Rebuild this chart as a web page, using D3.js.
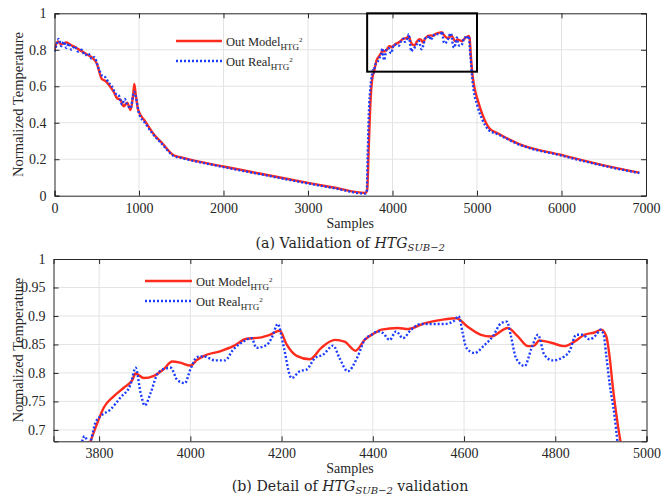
<!DOCTYPE html>
<html>
<head>
<meta charset="utf-8">
<script src="https://cdn.jsdelivr.net/npm/d3@7"></script>
<style>
  body { margin: 0; background: #fff; }
  svg text { font-family: "Liberation Serif", "Times New Roman", serif; fill: #262626; }
</style>
</head>
<body>
<svg id="chart"></svg>
<script>
// Chart size
const width = 662;
const height = 499;

// Out Model (red, solid)
const modelX = [0, 40, 80, 140, 200, 260, 330, 400, 450, 500, 560, 600, 640, 700, 740, 780, 820, 860, 900, 930, 945, 960, 990,
  1070, 1170, 1270, 1410, 1500, 2000, 2500, 3000, 3300, 3680, 3700, 3720, 3740, 3760, 3781, 3796, 3810, 3832, 3854, 3873,
  3880, 3898, 3920, 3942, 3960, 3978, 4000, 4015, 4030, 4065, 4094, 4123, 4152, 4174, 4196, 4211, 4233, 4262, 4287, 4317,
  4338, 4362, 4382, 4404, 4419, 4455, 4477, 4513, 4557, 4583, 4608, 4637, 4659, 4696, 4718, 4740, 4754, 4765, 4791, 4820,
  4842, 4864, 4886, 4901, 4912, 4919, 4926, 4941, 4961, 5008, 5067, 5146, 5245, 5500, 6000, 6488, 6921];
const modelY = [0.80, 0.845, 0.83, 0.84, 0.825, 0.81, 0.79, 0.77, 0.755, 0.725, 0.64, 0.63, 0.61, 0.57, 0.535, 0.525, 0.49, 0.51, 0.47, 0.55, 0.612, 0.56, 0.47,
  0.41, 0.34, 0.29, 0.222, 0.21, 0.16, 0.115, 0.07, 0.045, 0.015, 0.03, 0.28, 0.52, 0.64, 0.68, 0.712, 0.739, 0.759, 0.774, 0.788,
  0.799, 0.791, 0.795, 0.807, 0.82, 0.818, 0.813, 0.823, 0.83, 0.838, 0.847, 0.86, 0.862, 0.867, 0.874, 0.85, 0.83, 0.824, 0.844, 0.858,
  0.855, 0.839, 0.858, 0.87, 0.876, 0.879, 0.877, 0.887, 0.894, 0.896, 0.881, 0.867, 0.864, 0.879, 0.864, 0.847, 0.848, 0.857, 0.853, 0.847,
  0.855, 0.867, 0.871, 0.876, 0.864, 0.829, 0.777, 0.689, 0.616, 0.525, 0.442, 0.37, 0.342, 0.283, 0.223, 0.168, 0.126];

// Out Real (blue, dotted)
const realX = [0, 25, 50, 80, 110, 140, 170, 200, 240, 280, 320, 360, 400, 440, 470, 520, 560, 600, 640, 680, 720, 760, 800, 830, 860, 900, 940, 980,
  1000, 1070, 1170, 1270, 1410, 1500, 2000, 2500, 3000, 3300, 3680, 3695, 3705, 3720, 3740, 3758, 3768, 3778, 3792, 3803, 3825, 3847, 3869,
  3880, 3891, 3900, 3913, 3927, 3942, 3957, 3971, 3988, 4000, 4015, 4030, 4054, 4076, 4094, 4116, 4134, 4145, 4167, 4178, 4192, 4203,
  4222, 4240, 4255, 4273, 4291, 4313, 4327, 4345, 4367, 4382, 4397, 4411, 4422, 4437, 4451, 4466, 4484, 4506, 4535, 4557, 4579, 4588,
  4597, 4605, 4623, 4645, 4663, 4681, 4694, 4703, 4714, 4733, 4747, 4762, 4776, 4794, 4820, 4831, 4846, 4860, 4875, 4890, 4899, 4906,
  4912, 4919, 4930, 4935, 4960, 5000, 5060, 5140, 5240, 5500, 6000, 6488, 6921];
const realY = [0.79, 0.83, 0.86, 0.82, 0.845, 0.81, 0.835, 0.80, 0.82, 0.79, 0.80, 0.77, 0.78, 0.75, 0.76, 0.70, 0.66, 0.65, 0.62, 0.60, 0.56, 0.55, 0.50, 0.53, 0.50, 0.48, 0.57, 0.50,
  0.45, 0.40, 0.335, 0.285, 0.218, 0.207, 0.157, 0.112, 0.067, 0.042, 0.012, 0.02, 0.2, 0.45, 0.6, 0.665, 0.689, 0.675, 0.713, 0.724, 0.736, 0.757, 0.78,
  0.809, 0.765, 0.743, 0.765, 0.797, 0.807, 0.809, 0.788, 0.782, 0.806, 0.828, 0.829, 0.822, 0.822, 0.841, 0.855, 0.861, 0.844, 0.849, 0.861, 0.886, 0.852,
  0.791, 0.803, 0.806, 0.826, 0.832, 0.848, 0.826, 0.803, 0.829, 0.858, 0.867, 0.873, 0.87, 0.858, 0.873, 0.861, 0.876, 0.886, 0.886, 0.886, 0.892, 0.90,
  0.87, 0.844, 0.835, 0.849, 0.864, 0.887, 0.89, 0.864, 0.826, 0.812, 0.841, 0.867, 0.832, 0.822, 0.829, 0.838, 0.867, 0.867, 0.859, 0.867, 0.876, 0.867,
  0.829, 0.782, 0.724, 0.689, 0.58, 0.50, 0.42, 0.36, 0.338, 0.28, 0.22, 0.165, 0.124];

// Axis ticks
const fullXTicks = [0, 1000, 2000, 3000, 4000, 5000, 6000, 7000];
const fullYTicks = [0, 0.2, 0.4, 0.6, 0.8, 1];
const detailXTicks = [3800, 4000, 4200, 4400, 4600, 4800, 5000];
const detailYTicks = [0.7, 0.75, 0.8, 0.85, 0.9, 0.95, 1];

// Zoom window shown in panel (b)
const detailXRange = [3700, 5000];
const detailYRange = [0.68, 1];

const modelData = modelX.map((x, i) => ({ x: x, y: modelY[i] }));
const realData = realX.map((x, i) => ({ x: x, y: realY[i] }));

const red = "#ff2b1c";
const blue = "#1c3cff";
const serif = "'Liberation Serif', 'Times New Roman', serif";

const svg = d3.select("#chart")
    .attr("width", width)
    .attr("height", height);

svg.append("rect").attr("width", width).attr("height", height).attr("fill", "#fff");

function drawPanel(p) {
    const x = d3.scaleLinear().domain(p.xDomain).range([p.left, p.right]);
    const y = d3.scaleLinear().domain(p.yDomain).range([p.bottom, p.top]);
    const g = svg.append("g");

    // grid
    g.append("g").selectAll("line")
        .data(p.xTicks.filter(d => d > p.xDomain[0] && d < p.xDomain[1]))
        .enter().append("line")
        .attr("x1", d => x(d)).attr("x2", d => x(d))
        .attr("y1", p.top).attr("y2", p.bottom)
        .attr("stroke", "#e3e3e3").attr("stroke-width", 1);
    g.append("g").selectAll("line")
        .data(p.yTicks.filter(d => d > p.yDomain[0] && d < p.yDomain[1]))
        .enter().append("line")
        .attr("y1", d => y(d)).attr("y2", d => y(d))
        .attr("x1", p.left).attr("x2", p.right)
        .attr("stroke", "#e3e3e3").attr("stroke-width", 1);

    // lines
    const clipId = "clip" + p.id;
    svg.append("clipPath").attr("id", clipId)
        .append("rect")
        .attr("x", p.left).attr("y", p.top)
        .attr("width", p.right - p.left).attr("height", p.bottom - p.top);

    const line = d3.line()
        .x(d => x(d.x))
        .y(d => y(d.y))
        .curve(d3.curveMonotoneX);

    const lines = g.append("g").attr("clip-path", `url(#${clipId})`);
    lines.append("path")
        .datum(modelData)
        .attr("d", line)
        .attr("fill", "none")
        .attr("stroke", red)
        .attr("stroke-width", 2.4);
    lines.append("path")
        .datum(realData)
        .attr("d", line)
        .attr("fill", "none")
        .attr("stroke", blue)
        .attr("stroke-width", 2.4)
        .attr("stroke-dasharray", "2,2");

    // axes with inward ticks on all four sides
    const fmt = d => String(+d.toFixed(2));
    g.append("g").attr("transform", `translate(0,${p.bottom})`)
        .call(d3.axisBottom(x).tickValues(p.xTicks).tickSize(-5).tickPadding(7).tickFormat(fmt));
    g.append("g").attr("transform", `translate(${p.left},0)`)
        .call(d3.axisLeft(y).tickValues(p.yTicks).tickSize(-5).tickPadding(8).tickFormat(fmt));
    g.append("g").attr("transform", `translate(0,${p.top})`)
        .call(d3.axisTop(x).tickValues(p.xTicks).tickSize(-5).tickFormat(""));
    g.append("g").attr("transform", `translate(${p.right},0)`)
        .call(d3.axisRight(y).tickValues(p.yTicks).tickSize(-5).tickFormat(""));
    g.selectAll(".domain").attr("stroke", "#262626").attr("stroke-width", 1);
    g.selectAll(".tick line").attr("stroke", "#262626");
    g.selectAll(".tick text")
        .style("font-family", serif)
        .style("font-size", "14px")
        .attr("fill", "#262626");

    // axis titles
    g.append("text")
        .attr("x", (p.left + p.right) / 2)
        .attr("y", p.bottom + 32)
        .attr("text-anchor", "middle")
        .style("font-size", "14px")
        .text("Samples");
    g.append("text")
        .attr("transform", `translate(23,${(p.top + p.bottom) / 2}) rotate(-90)`)
        .attr("text-anchor", "middle")
        .style("font-size", "14.5px")
        .text("Normalized Temperature");

    // legend
    const leg = g.append("g").attr("transform", `translate(${p.legendX},${p.legendY})`);
    const entries = [
        { name: "Out Model", color: red, dash: null },
        { name: "Out Real", color: blue, dash: "2,2" }
    ];
    entries.forEach((e, i) => {
        const row = leg.append("g").attr("transform", `translate(0,${i * 20})`);
        row.append("line")
            .attr("x1", 0).attr("x2", p.legendLine)
            .attr("stroke", e.color).attr("stroke-width", 2.4)
            .attr("stroke-dasharray", e.dash);
        const t = row.append("text")
            .attr("x", p.legendLine + 4).attr("y", 4.5)
            .style("font-size", "12.5px");
        t.append("tspan").text(e.name);
        t.append("tspan").attr("dy", 4).style("font-size", "9px").text("HTG");
        t.append("tspan").attr("dy", -8).style("font-size", "7px").text("2");
    });

    // caption
    const cap = g.append("text")
        .attr("x", (p.left + p.right) / 2)
        .attr("y", p.bottom + p.captionDy)
        .attr("text-anchor", "middle")
        .style("font-family", "'DejaVu Serif', serif")
        .style("font-size", "14.2px");
    cap.append("tspan").text(p.captionA);
    cap.append("tspan").style("font-style", "italic").text("HTG");
    cap.append("tspan").attr("dy", 3).style("font-style", "italic").style("font-size", "10px").text("SUB\u22122");
    if (p.captionB) cap.append("tspan").attr("dy", -3).text(p.captionB);

    return { x, y, g };
}

const panelA = drawPanel({
    id: "a", left: 54.5, right: 646, top: 13.3, bottom: 195.7,
    xDomain: [0, 7000], yDomain: [0, 1],
    xTicks: fullXTicks, yTicks: fullYTicks,
    legendX: 176, legendY: 41, legendLine: 46,
    captionDy: 52, captionA: "(a) Validation of ", captionB: null
});

// box marking the detail window
panelA.g.append("rect")
    .attr("x", panelA.x(detailXRange[0]))
    .attr("y", panelA.y(detailYRange[1]))
    .attr("width", panelA.x(detailXRange[1]) - panelA.x(detailXRange[0]))
    .attr("height", panelA.y(detailYRange[0]) - panelA.y(detailYRange[1]))
    .attr("fill", "none")
    .attr("stroke", "#000")
    .attr("stroke-width", 2);

drawPanel({
    id: "b", left: 53.5, right: 646.5, top: 259, bottom: 441.3,
    xDomain: detailXRange, yDomain: detailYRange,
    xTicks: detailXTicks, yTicks: detailYTicks,
    legendX: 145, legendY: 281, legendLine: 47,
    captionDy: 50, captionA: "(b) Detail of ", captionB: " validation"
});
</script>
</body>
</html>
